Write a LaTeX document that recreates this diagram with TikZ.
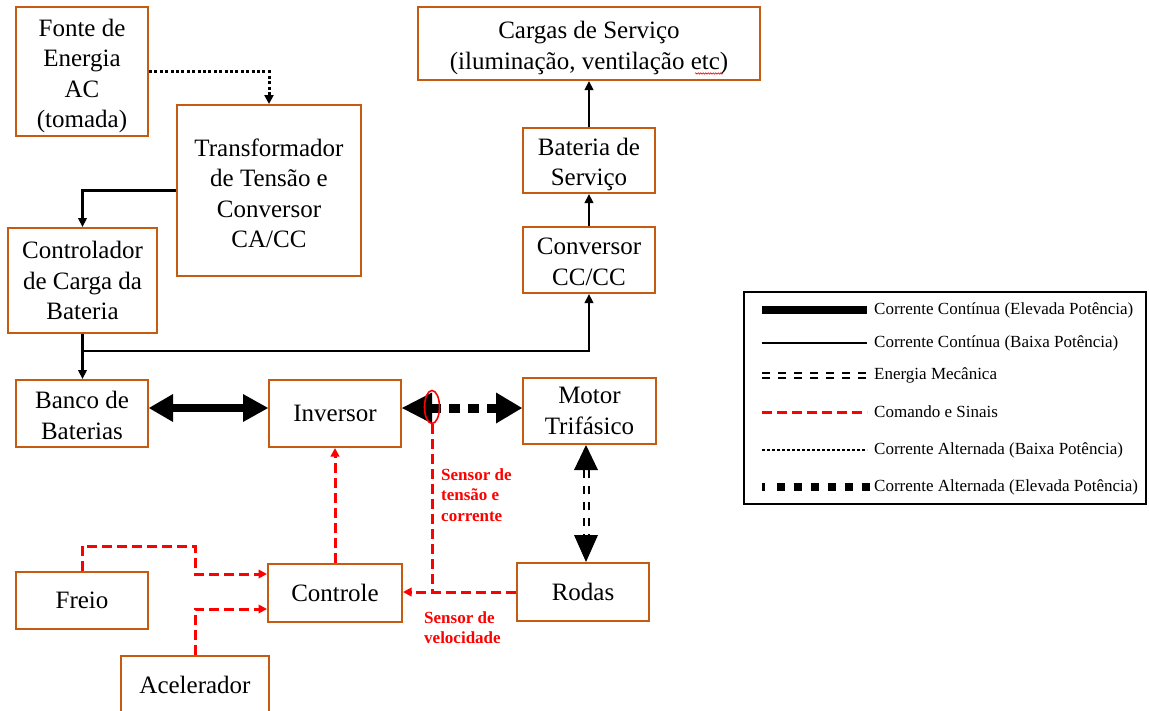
\documentclass[tikz,border=0pt]{standalone}
\usepackage{fontspec}
\setmainfont{Liberation Serif}
\usetikzlibrary{arrows.meta,shapes.geometric,decorations.pathmorphing}
\definecolor{boxorange}{RGB}{197,90,17}
\begin{document}
\begin{tikzpicture}[x=1pt,y=-1pt,
  box/.style={draw=boxorange, line width=2pt, fill=white, inner sep=0pt, align=center,
     font=\fontsize{25}{30.5}\selectfont},
  txt/.style={inner sep=0pt, align=center, font=\fontsize{25}{30.5}\selectfont},
  dcl/.style={black, line width=2.6pt, -{Triangle[length=9pt,width=8.5pt]}},
  dch/.style={black, line width=8pt, {Triangle[length=24pt,width=28pt,line width=0pt]}-{Triangle[length=25pt,width=28pt,line width=0pt]}},
  ach/.style={black, line width=9pt, dash pattern=on 11pt off 8pt},
  acl/.style={black, line width=3pt, dash pattern=on 3pt off 2.4pt, -{Triangle[length=9pt,width=9pt]}},
  mech/.style={black, line width=2pt, double=white, double distance=3pt, dash pattern=on 8pt off 8pt},
  sig/.style={red, line width=3pt, dash pattern=on 10pt off 5pt},
  sigarrow/.style={sig, -{Triangle[length=8.5pt,width=8.5pt]}},
  redlbl/.style={red, font=\bfseries\fontsize{17}{20.5}\selectfont, align=left, inner sep=0pt},
  lgtxt/.style={font=\fontsize{17}{20}\selectfont, anchor=west, inner sep=0pt}
]
\useasboundingbox (0,0) rectangle (1149,710);
\begin{scope}
\clip (0,0) rectangle (1149,710);

% boxes
\node[box, minimum width=132pt, minimum height=129pt] (fonte) at (82,71.5) {};
\node[txt] (fonteT) at (82,76) {Fonte de\\Energia\\AC\\(tomada)};
\node[box, minimum width=184pt, minimum height=171pt] (trafo) at (269,190.5) {};
\node[txt] (trafoT) at (269,193.5) {Transformador\\de Tensão e\\Conversor\\CA/CC};
\node[box, minimum width=149pt, minimum height=105pt] (ctrlcarga) at (82.5,280.5) {Controlador\\de Carga da\\Bateria};
\node[box, minimum width=342pt, minimum height=73pt] (cargas) at (589,43.5) {};
\node[txt] (cargasT) at (589,48) {Cargas de Serviço\\(iluminação, ventilação etc)};
\node[box, minimum width=132pt, minimum height=65pt] (batserv) at (589,160.5) {};
\node[txt] (batservT) at (589,164.5) {Bateria de\\Serviço};
\node[box, minimum width=132pt, minimum height=66pt] (conv) at (589,260) {};
\node[txt] (convT) at (589,262) {Conversor\\CC/CC};
\node[box, minimum width=132pt, minimum height=67pt] (banco) at (82,413.5) {};
\node[txt] (bancoT) at (82,415.5) {Banco de\\Baterias};
\node[box, minimum width=132pt, minimum height=67pt] (inversor) at (335,413.5) {Inversor};
\node[box, minimum width=133pt, minimum height=66pt] (motor) at (589.5,411) {Motor\\Trifásico};
\node[box, minimum width=132pt, minimum height=58pt] (rodas) at (583,592) {Rodas};
\node[box, minimum width=132pt, minimum height=57pt] (freio) at (82,600.5) {Freio};
\node[box, minimum width=134pt, minimum height=58pt] (controle) at (335,593) {Controle};
\node[box, minimum width=148pt, minimum height=58pt] (acel) at (195,685) {Acelerador};

% spell-check squiggle
\draw[red, line width=0.6pt, decorate, decoration={snake, amplitude=0.7pt, segment length=2.5pt}] (695,73.5) -- (723,73.5);

% AC low power
\draw[acl] (fonte.east) -| (trafo.north);
% DC low power
\draw[dcl] (trafo.west) -| (ctrlcarga.north);
\draw[dcl] (ctrlcarga.south) -- (ctrlcarga.south |- banco.north);
\coordinate (j) at (82.5,351);
\draw[dcl] (j) -| (conv.south);
\draw[dcl] (conv.north) -- (batserv.south);
\draw[dcl] (batserv.north) -- (cargas.south);

% DC high power
\draw[dch] ([yshift=5.5pt]banco.east) -- ([yshift=5.5pt]inversor.west);

% AC high power
\draw[ach, shorten <=28pt, shorten >=24pt] ([yshift=5.5pt]inversor.east) -- ([yshift=3pt]motor.west);
\draw[black, line width=9pt, dash pattern=on 0pt off 3000pt,
  {Triangle[length=30pt,width=31pt,line width=0pt]}-{Triangle[length=26pt,width=31pt,line width=0pt]}]
  ([yshift=5.5pt]inversor.east) -- ([yshift=3pt]motor.west);

% sensor ellipse
\node[ellipse, draw=red, line width=1.6pt, minimum width=15pt, minimum height=33pt, inner sep=0pt] (sens) at (432,407) {};

% mechanical
\draw[mech, shorten <=25pt, shorten >=26pt] ([xshift=-3.5pt]motor.south) -- ([xshift=3pt]rodas.north);
\draw[black, line width=2pt, dash pattern=on 0pt off 3000pt,
  {Triangle[length=25pt,width=24pt,line width=0pt]}-{Triangle[length=27pt,width=24pt,line width=0pt]}]
  ([xshift=-3.5pt]motor.south) -- ([xshift=3pt]rodas.north);

% signals
\draw[sigarrow] (controle.north) -- (inversor.south);
\draw[sigarrow] (rodas.west) -- (rodas.west -| controle.east);
\draw[sig] (sens.south) -- (sens.south |- rodas.west);
\coordinate (f1) at (82,546);
\coordinate (f2) at (195,546);
\coordinate (f3) at (195,574);
\draw[sigarrow] (freio.north) -- (f1) -- (f2) -- (f3) -- (f3 -| controle.west);
\draw[sigarrow] (acel.north) |- ([yshift=-16pt]controle.west);

% red labels
\node[redlbl, anchor=north west] (lbl1) at (441,468) {Sensor de\\tensão e\\corrente};
\node[redlbl, anchor=north west] (lbl2) at (424,611) {Sensor de\\velocidade};

% legend
\draw[black, line width=1.5pt] (744,292) rectangle (1146,504);
\draw[black, line width=8pt] (762,310) -- (867,310);
\draw[black, line width=2.5pt] (762,343) -- (867,343);
\draw[mech] (762,375) -- (869,375);
\draw[sig] (762,412) -- (867,412);
\draw[black, line width=2.5pt, dash pattern=on 2.6pt off 2.4pt] (762,450) -- (867,450);
\draw[black, line width=8.5pt, dash pattern=on 2.5pt off 12pt on 8.5pt off 8.5pt on 8.5pt off 8.5pt on 8.5pt off 8.5pt on 8.5pt off 8.5pt on 8.5pt off 8.5pt on 8.5pt off 8.5pt on 8.5pt off 100pt] (762,487) -- (870,487);
\node[lgtxt] (t1) at (874,310) {Corrente Contínua (Elevada Potência)};
\node[lgtxt] (t2) at (874,343) {Corrente Contínua (Baixa Potência)};
\node[lgtxt] (t3) at (874,375) {Energia Mecânica};
\node[lgtxt] (t4) at (874,412) {Comando e Sinais};
\node[lgtxt] (t5) at (874,450) {Corrente Alternada (Baixa Potência)};
\node[lgtxt] (t6) at (874,487) {Corrente Alternada (Elevada Potência)};
\end{scope}
\end{tikzpicture}
\end{document}
